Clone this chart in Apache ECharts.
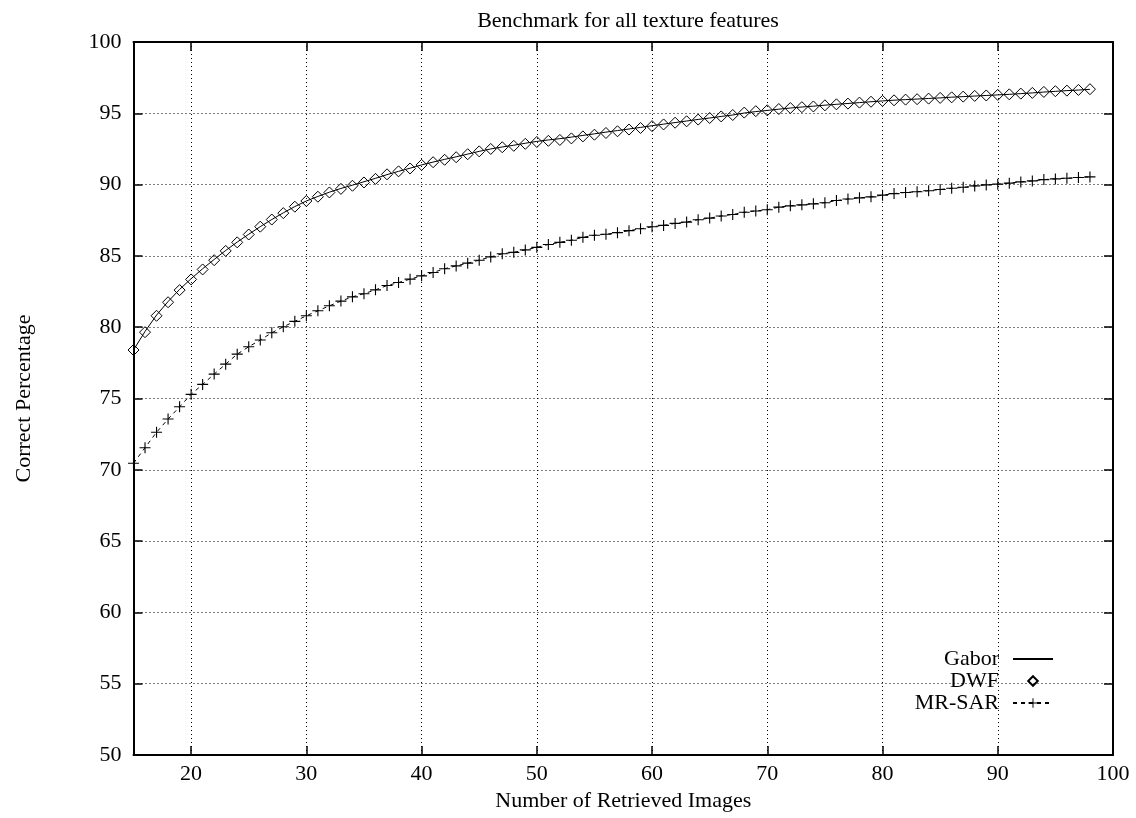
<!DOCTYPE html>
<html>
<head>
<meta charset="utf-8">
<script src="https://cdn.jsdelivr.net/npm/echarts@6/dist/echarts.min.js"></script>
<style>
  html, body { margin: 0; padding: 0; background: #fff; }
  #main { width: 1136px; height: 818px; }
</style>
</head>
<body>
<div id="main"></div>
<script>
// number of retrieved images (x)
const retrieved = [
  15, 16, 17, 18, 19, 20, 21, 22, 23, 24,
  25, 26, 27, 28, 29, 30, 31, 32, 33, 34,
  35, 36, 37, 38, 39, 40, 41, 42, 43, 44,
  45, 46, 47, 48, 49, 50, 51, 52, 53, 54,
  55, 56, 57, 58, 59, 60, 61, 62, 63, 64,
  65, 66, 67, 68, 69, 70, 71, 72, 73, 74,
  75, 76, 77, 78, 79, 80, 81, 82, 83, 84,
  85, 86, 87, 88, 89, 90, 91, 92, 93, 94,
  95, 96, 97, 98
];

const gabor = [
  78.4, 79.7, 80.85, 81.8, 82.65, 83.4, 84.1, 84.75, 85.38, 85.97,
  86.52, 87.05, 87.55, 88.02, 88.46, 88.85, 89.17, 89.47, 89.73, 89.96,
  90.2, 90.44, 90.7, 90.93, 91.15, 91.38, 91.58, 91.77, 91.95, 92.14,
  92.33, 92.5, 92.64, 92.76, 92.9, 93.03, 93.13, 93.22, 93.33, 93.45,
  93.56, 93.68, 93.79, 93.9, 94.01, 94.13, 94.24, 94.35, 94.46, 94.57,
  94.67, 94.78, 94.88, 95.02, 95.12, 95.2, 95.29, 95.37, 95.44, 95.5,
  95.57, 95.63, 95.69, 95.75, 95.81, 95.87, 95.92, 95.96, 96.0, 96.04,
  96.08, 96.13, 96.17, 96.21, 96.25, 96.29, 96.33, 96.38, 96.43, 96.49,
  96.54, 96.59, 96.63, 96.68
];

const dwf = [
  78.4, 79.65, 80.8, 81.75, 82.6, 83.35, 84.05, 84.7, 85.35, 85.95,
  86.5, 87.05, 87.55, 88.0, 88.45, 88.85, 89.15, 89.45, 89.7, 89.92,
  90.15, 90.4, 90.72, 90.93, 91.13, 91.38, 91.57, 91.74, 91.92, 92.13,
  92.33, 92.5, 92.62, 92.72, 92.86, 92.99, 93.07, 93.13, 93.24, 93.38,
  93.5, 93.62, 93.74, 93.86, 93.97, 94.1, 94.22, 94.34, 94.44, 94.56,
  94.67, 94.78, 94.88, 95.05, 95.15, 95.21, 95.3, 95.37, 95.43, 95.48,
  95.56, 95.63, 95.68, 95.75, 95.81, 95.87, 95.91, 95.96, 95.99, 96.03,
  96.08, 96.12, 96.17, 96.22, 96.25, 96.29, 96.33, 96.38, 96.43, 96.5,
  96.55, 96.59, 96.64, 96.69
];

const mrsar = [
  70.46, 71.55, 72.63, 73.56, 74.42, 75.29, 75.99, 76.71, 77.41, 78.11,
  78.63, 79.1, 79.61, 80.03, 80.41, 80.8, 81.15, 81.5, 81.83, 82.13,
  82.35, 82.62, 82.92, 83.13, 83.37, 83.6, 83.84, 84.1, 84.3, 84.49,
  84.7, 84.93, 85.15, 85.25, 85.42, 85.6, 85.8, 85.95, 86.1, 86.3,
  86.45, 86.52, 86.63, 86.77, 86.9, 87.04, 87.14, 87.28, 87.37, 87.54,
  87.65, 87.8, 87.9, 88.06, 88.15, 88.24, 88.42, 88.51, 88.58, 88.65,
  88.73, 88.88, 88.99, 89.07, 89.14, 89.26, 89.37, 89.45, 89.5, 89.57,
  89.66, 89.74, 89.81, 89.91, 89.98, 90.03, 90.1, 90.19, 90.26, 90.35,
  90.4, 90.45, 90.5, 90.54
];

const xTicks = [20, 30, 40, 50, 60, 70, 80, 90, 100];

const FONT = 'Liberation Serif';
const plusPath = 'path://M4.5,0 h1 v4.5 h4.5 v1 h-4.5 v4.5 h-1 v-4.5 h-4.5 v-1 h4.5 z';

const pairs = ys => retrieved.map((x, i) => [x, ys[i]]);

const chartDom = document.getElementById('main');
const myChart = echarts.init(chartDom, null, { renderer: 'canvas' });

const dotted = { show: true, lineStyle: { color: '#000', width: 1, type: [1, 3] } };
const frame = { show: true, onZero: false, lineStyle: { color: '#000', width: 2 } };
const tick = { show: true, inside: true, length: 9, lineStyle: { color: '#000', width: 1.5 } };

const option = {
    backgroundColor: '#ffffff',
    animation: false,
    textStyle: { fontFamily: FONT, color: '#000' },
    title: {
        text: 'Benchmark for all texture features',
        left: 623,
        textAlign: 'center',
        top: 5,
        textStyle: { fontFamily: FONT, fontSize: 22, fontWeight: 'normal', color: '#000' }
    },
    grid: { left: 133.5, right: 23, top: 42, bottom: 63 },
    legend: {
        orient: 'vertical',
        align: 'right',
        right: 77,
        top: 643,
        itemWidth: 40,
        itemHeight: 12,
        itemGap: 0,
        data: [
            { name: 'Gabor', itemStyle: { opacity: 0 } },
            { name: 'DWF' },
            { name: 'MR-SAR' }
        ],
        textStyle: { fontFamily: FONT, fontSize: 22, color: '#000', padding: [0, 9, 0, 0] }
    },
    xAxis: [
        {
            type: 'value',
            min: 15,
            max: 100,
            position: 'bottom',
            name: 'Number of Retrieved Images',
            nameLocation: 'middle',
            nameGap: 28,
            nameTextStyle: { fontFamily: FONT, fontSize: 22, color: '#000' },
            axisLine: frame,
            axisTick: Object.assign({ customValues: xTicks }, tick),
            axisLabel: { customValues: xTicks, fontFamily: FONT, fontSize: 22, color: '#000', margin: 8 },
            splitLine: dotted
        },
        {
            type: 'value',
            min: 15,
            max: 100,
            position: 'top',
            axisLine: frame,
            axisTick: Object.assign({ customValues: xTicks }, tick),
            axisLabel: { show: false },
            splitLine: { show: false }
        }
    ],
    yAxis: [
        {
            type: 'value',
            min: 50,
            max: 100,
            interval: 5,
            position: 'left',
            name: 'Correct Percentage',
            nameLocation: 'middle',
            nameGap: 98,
            nameTextStyle: { fontFamily: FONT, fontSize: 22, color: '#000' },
            axisLine: frame,
            axisTick: tick,
            axisLabel: { fontFamily: FONT, fontSize: 22, color: '#000', margin: 12 },
            splitLine: dotted
        },
        {
            type: 'value',
            min: 50,
            max: 100,
            interval: 5,
            position: 'right',
            axisLine: frame,
            axisTick: tick,
            axisLabel: { show: false },
            splitLine: { show: false }
        }
    ],
    series: [
        {
            name: 'Gabor',
            type: 'line',
            data: pairs(gabor),
            symbol: 'circle',
            showSymbol: false,
            clip: false,
            lineStyle: { color: '#000', width: 1 },
            itemStyle: { color: '#000' },
            z: 3
        },
        {
            name: 'DWF',
            type: 'line',
            data: pairs(dwf),
            symbol: 'diamond',
            symbolSize: 11,
            showAllSymbol: true,
            clip: false,
            lineStyle: { color: '#000', width: 1, opacity: 0 },
            itemStyle: { color: 'rgba(0,0,0,0)', borderColor: '#000', borderWidth: 1 },
            z: 4
        },
        {
            name: 'MR-SAR',
            type: 'line',
            data: pairs(mrsar),
            symbol: plusPath,
            symbolSize: 11,
            showAllSymbol: true,
            clip: false,
            lineStyle: { color: '#000', width: 1, type: [4, 4] },
            itemStyle: { color: '#000', borderWidth: 0 },
            z: 3
        }
    ]
};

myChart.setOption(option);
</script>
</body>
</html>
